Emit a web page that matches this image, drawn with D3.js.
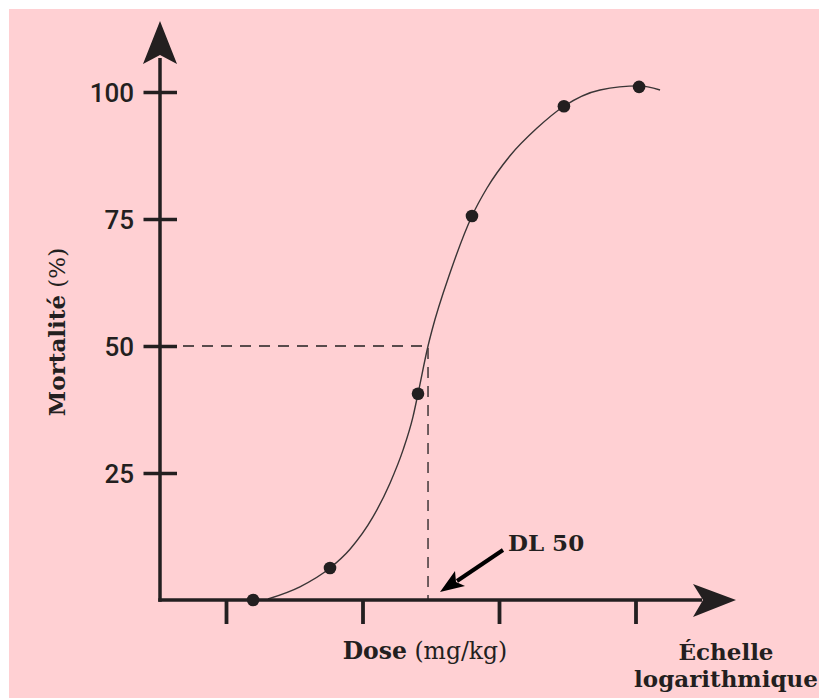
<!DOCTYPE html>
<html>
<head>
<meta charset="utf-8">
<script src="https://cdn.jsdelivr.net/npm/d3@7"></script>
<style>
  html, body { margin: 0; padding: 0; background: #fff; }
  svg { display: block; }
  .serif { font-family: "DejaVu Serif", serif; }
</style>
</head>
<body>
<div id="chart"></div>
<script>
// dose (mg/kg, log scale) and mortality (%) of the measured points
var doses = [1.58, 5.78, 25.5, 63.4, 299, 1062];
var mortality = [0, 6.3, 40.6, 75.6, 97.2, 101];

// fitted dose-response curve
var curveDose = [2.03, 3.48, 5.78, 8.1, 11.9, 15.9, 19.8, 23.4, 25.5, 30.2, 32.3, 43.8, 63.4, 81.7, 120, 190, 299, 550, 1062, 1513];
var curveMort = [0.2, 2.6, 6.3, 10.0, 16.3, 23.0, 29.5, 36.0, 40.6, 50, 53.1, 64.4, 75.6, 81.1, 87.4, 92.9, 97.2, 100.4, 101.2, 100.4];

var yTicks = [25, 50, 75, 100];
var xTicks = [1, 10, 100, 1000];
var dl50 = 30.2;

renderChart();

function renderChart() {

var width = 819;
var height = 698;
var ink = "#231f20";

var svg = d3.select("#chart")
        .append("svg")
        .attr("width", width)
        .attr("height", height);

svg.append("rect")
    .attr("x", 9).attr("y", 9)
    .attr("width", width - 9).attr("height", height - 9)
    .attr("fill", "#ffd0d3");

var x = d3.scaleLog().domain([1, 1000]).range([226, 635.5]);
var y = d3.scaleLinear().domain([0, 100]).range([600, 92]);
var x0 = 160;   // where the y axis stands

// dashed guide at 50 %
svg.append("path")
    .attr("d", "M" + 183 + "," + y(50) + "H" + x(dl50) + "V" + y(0))
    .attr("fill", "none")
    .attr("stroke", ink)
    .attr("stroke-width", 1.3)
    .attr("stroke-dasharray", "11,8");

// curve
var line = d3.line()
    .x(function(d, i) { return x(curveDose[i]); })
    .y(function(d, i) { return y(curveMort[i]); })
    .curve(d3.curveMonotoneX);

svg.append("path")
    .datum(curveDose)
    .attr("d", line)
    .attr("fill", "none")
    .attr("stroke", "#3a3536")
    .attr("stroke-width", 1.4);

// y axis
var yAxis = svg.append("g")
    .attr("transform", "translate(" + x0 + ",0)")
    .call(d3.axisLeft(y).tickValues(yTicks).tickSize(16).tickPadding(10));
yAxis.select(".domain").remove();
yAxis.selectAll(".tick line")
    .attr("stroke", ink).attr("stroke-width", 3.5)
    .attr("x2", -16.5);
yAxis.selectAll(".tick")
    .append("line")
    .attr("x1", 0).attr("x2", 17)
    .attr("stroke", ink).attr("stroke-width", 3.5);
yAxis.selectAll(".tick text")
    .attr("fill", ink)
    .attr("font-family", "Roboto, 'Liberation Sans', Arial, sans-serif")
    .attr("font-weight", 500)
    .attr("font-size", 26)
    .attr("x", -26)
    .attr("dy", "0.36em");

svg.append("line")
    .attr("x1", x0).attr("x2", x0)
    .attr("y1", y(0) + 1.75).attr("y2", 58)
    .attr("stroke", ink).attr("stroke-width", 3.5);
svg.append("path")
    .attr("d", "M160,21L177,64L160,55L143,64Z")
    .attr("fill", ink);

// x axis
var xAxis = svg.append("g")
    .attr("transform", "translate(0," + y(0) + ")")
    .call(d3.axisBottom(x).tickValues(xTicks).tickSize(24).tickFormat(""));
xAxis.select(".domain").remove();
xAxis.selectAll(".tick line")
    .attr("stroke", ink).attr("stroke-width", 3.8);

svg.append("line")
    .attr("x1", x0 - 1.75).attr("x2", 702)
    .attr("y1", y(0)).attr("y2", y(0))
    .attr("stroke", ink).attr("stroke-width", 3.5);
svg.append("path")
    .attr("d", "M736,600L693,584L703,600L693,617Z")
    .attr("fill", ink);

// measured points
svg.append("g")
    .selectAll("circle")
    .data(doses)
    .enter().append("circle")
    .attr("cx", function(d) { return x(d); })
    .attr("cy", function(d, i) { return y(mortality[i]); })
    .attr("r", 6.3)
    .attr("fill", ink);

// DL 50 pointer
svg.append("line")
    .attr("x1", 503).attr("y1", 550)
    .attr("x2", 457).attr("y2", 581)
    .attr("stroke", "#000").attr("stroke-width", 4);
svg.append("path")
    .attr("d", "M440,592L455,571L456,582L465,586Z")
    .attr("fill", "#000");

svg.append("text")
    .attr("class", "serif")
    .attr("x", 508).attr("y", 551)
    .attr("font-size", 23).attr("font-weight", "bold")
    .attr("fill", ink)
    .text("DL 50");

// axis titles
var xt = svg.append("text")
    .attr("class", "serif")
    .attr("x", 425).attr("y", 659)
    .attr("text-anchor", "middle")
    .attr("font-size", 23.5)
    .attr("fill", ink);
xt.append("tspan").attr("font-weight", "bold").text("Dose");
xt.append("tspan").text(" (mg/kg)");

svg.append("text")
    .attr("class", "serif")
    .attr("x", 726).attr("y", 660)
    .attr("text-anchor", "middle")
    .attr("font-size", 23).attr("font-weight", "bold")
    .attr("fill", ink)
    .text("Échelle");
svg.append("text")
    .attr("class", "serif")
    .attr("x", 726).attr("y", 687)
    .attr("text-anchor", "middle")
    .attr("font-size", 23).attr("font-weight", "bold")
    .attr("fill", ink)
    .text("logarithmique");

var yt = svg.append("text")
    .attr("class", "serif")
    .attr("transform", "translate(65,332) rotate(-90)")
    .attr("text-anchor", "middle")
    .attr("font-size", 23)
    .attr("fill", ink);
yt.append("tspan").attr("font-weight", "bold").text("Mortalité");
yt.append("tspan").text(" (%)");

}
</script>
</body>
</html>
